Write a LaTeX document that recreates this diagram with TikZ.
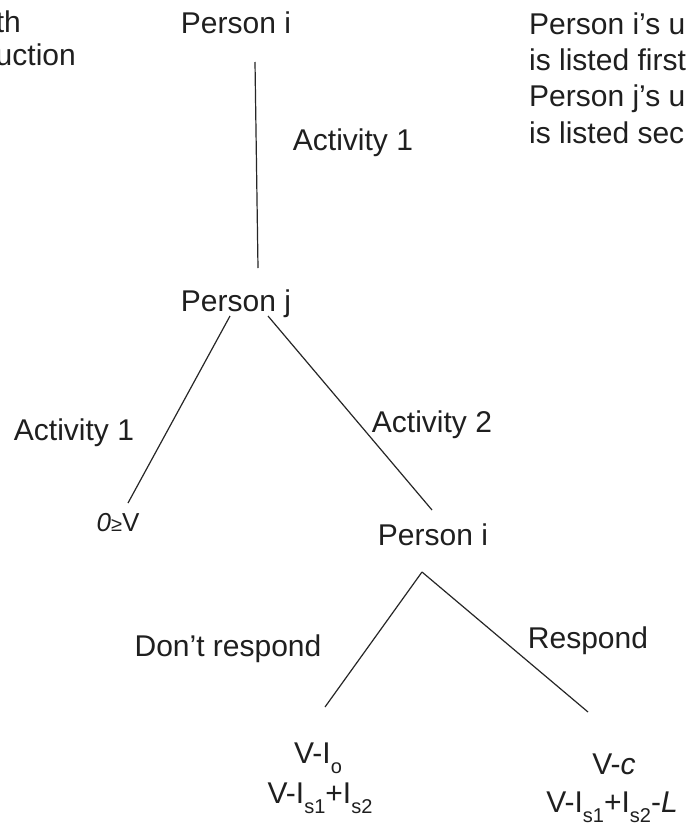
\documentclass[tikz,border=0pt]{standalone}
\usepackage{fontspec}
\setmainfont{Liberation Sans}
\newcommand\sbx[1]{\raisebox{-10pt}{\fontsize{20}{20}\selectfont #1}}
\tikzset{
  lbl/.style={anchor=base, inner sep=0pt, text=black!88, font=\fontsize{30}{36}\selectfont},
  edge/.style={draw=black!85, line width=1.2pt},
}
\begin{document}
\begin{tikzpicture}[x=1pt,y=-1pt]
\useasboundingbox (0,0) rectangle (688,825);
\clip (0,0) rectangle (688,825);
\fill[white] (0,0) rectangle (688,825);
% top-left cut text
\node[lbl, anchor=base east] (tl1) at (21,32) {th};
\node[lbl, anchor=base east] (tl2) at (76,65) {uction};
% top-right note
\node[lbl, anchor=base west] (n1) at (529,34) {Person i’s u};
\node[lbl, anchor=base west] (n2) at (529,70) {is listed first};
\node[lbl, anchor=base west] (n3) at (529,106) {Person j’s u};
\node[lbl, anchor=base west] (n4) at (529,143) {is listed sec};
% tree nodes
\node[lbl] (pi) at (236,33) {Person i};
\node[lbl] (pj) at (236,311) {Person j};
\node[lbl] (pi2) at (433,545) {Person i};
\node[lbl, font=\fontsize{26}{30}\selectfont] (z) at (118,531) {\textit{0}{\fontsize{20}{20}\selectfont ≥}V};
% edge labels
\node[lbl] (a1) at (353,150) {Activity 1};
\node[lbl] (a1l) at (74,440) {Activity 1};
\node[lbl] (a2) at (432,432) {Activity 2};
\node[lbl] (dr) at (228,656) {Don’t respond};
\node[lbl] (rs) at (588,648) {Respond};
% payoffs
\node[lbl] (p1a) at (318,763) {V-I\sbx{o}};
\node[lbl] (p1b) at (320,803) {V-I\sbx{s1}+I\sbx{s2}};
\node[lbl] (p2a) at (614,774) {V-\textit{c}};
\node[lbl] (p2b) at (612,812) {V-I\sbx{s1}+I\sbx{s2}-\textit{L}};
% connector ends
\coordinate (c0) at (255,62);
\coordinate (c1) at (258,268);
\coordinate (c2) at (230,316);
\coordinate (c3) at (128,503);
\coordinate (c4) at (268,316);
\coordinate (c5) at (432,510);
\coordinate (c6) at (422,572);
\coordinate (c7) at (325,707);
\coordinate (c8) at (588,712);
\draw[edge] (c0) -- (c1);
\draw[edge] (c2) -- (c3);
\draw[edge] (c4) -- (c5);
\draw[edge] (c6) -- (c7);
\draw[edge] (c6) -- (c8);
\end{tikzpicture}
\end{document}
